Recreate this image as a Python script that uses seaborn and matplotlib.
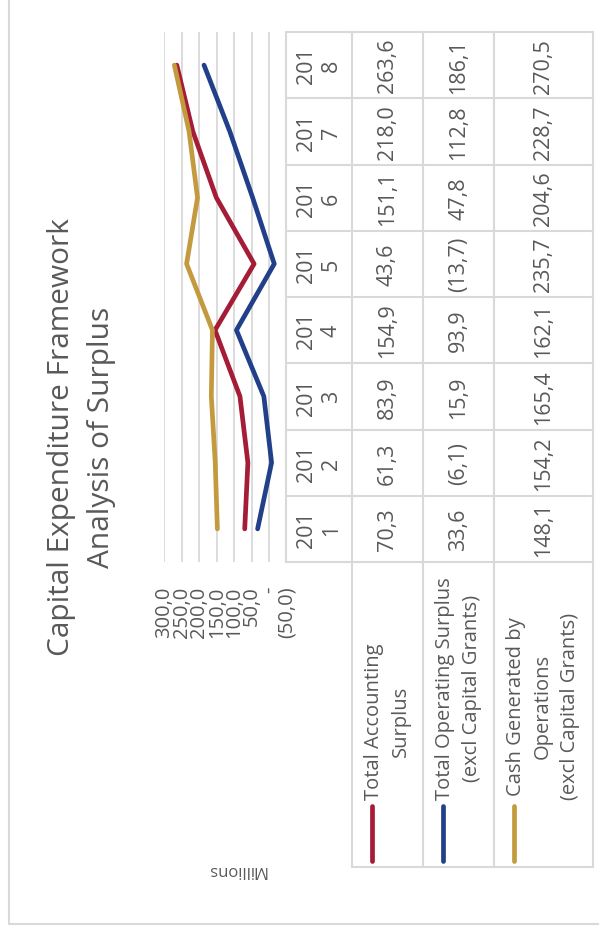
import pandas as pd
import seaborn as sns
import matplotlib.pyplot as plt

# Daten aus der Tabelle (Mio.)
jahre = ['2011', '2012', '2013', '2014', '2015', '2016', '2017', '2018']
accounting_surplus = [70.3, 61.3, 83.9, 154.9, 43.6, 151.1, 218.0, 263.6]
operating_surplus = [33.6, -6.1, 15.9, 93.9, -13.7, 47.8, 112.8, 186.1]
cash_generated = [148.1, 154.2, 165.4, 162.1, 235.7, 204.6, 228.7, 270.5]

serien = ['Total Accounting Surplus',
          'Total Operating Surplus (excl Capital Grants)',
          'Cash Generated by Operations (excl Capital Grants)']
legend_texte = ['Total Accounting\nSurplus',
                'Total Operating Surplus\n(excl Capital Grants)',
                'Cash Generated by\nOperations\n(excl Capital Grants)']
farben = ['#A51C36', '#22408A', '#C49A3F']
werte_ticks = [-50, 0, 50, 100, 150, 200, 250, 300]

titel = 'Capital Expenditure Framework\nAnalysis of Surplus'
einheit = 'Millions'

GRAU = '#595959'
LINIE = '#D9D9D9'
W, H = 599, 937


def format_wert(v):
    # Excel Buchhaltungsformat mit Komma
    if v == 0:
        return '-'
    s = f"{abs(v):.1f}".replace('.', ',')
    return f"({s})" if v < 0 else s


sns.set_style('white')
plt.rcParams['font.family'] = ['Open Sans', 'DejaVu Sans']

fig = plt.figure(figsize=(W / 100, H / 100), dpi=100)

# Diagramm ist um 90 Grad gedreht: Werte horizontal, Jahre vertikal
top, bottom = 33, 563
ax = fig.add_axes([164 / W, 1 - bottom / H, (287 - 164) / W, (bottom - top) / H])

zeilen = []
for serie, werte in zip(serien, [accounting_surplus, operating_surplus, cash_generated]):
    for i, w in enumerate(werte):
        zeilen.append({'Serie': serie, 'Pos': i, 'Wert': w})
df = pd.DataFrame(zeilen)

sns.lineplot(data=df, x='Wert', y='Pos', hue='Serie', palette=dict(zip(serien, farben)),
             orient='y', estimator=None, sort=False, linewidth=3.4, legend=False, ax=ax,
             solid_capstyle='round', solid_joinstyle='round')

ax.set_xlim(300, -50)
ax.set_ylim(-0.5, len(jahre) - 0.5)
ax.set_yticks([])
ax.set_xticks(werte_ticks, labels=[format_wert(v) for v in werte_ticks])
ax.tick_params(axis='x', length=0, pad=17, labelrotation=90, labelsize=14.5, colors=GRAU)
ax.grid(axis='x', color=LINIE, linewidth=1.3)
ax.set_xlabel('')
ax.set_ylabel('')
for sp in ax.spines.values():
    sp.set_visible(False)

# Overlay in Pixelkoordinaten fuer Tabelle, Legende, Titel
ov = fig.add_axes([0, 0, 1, 1])
ov.set_xlim(0, W)
ov.set_ylim(H, 0)
ov.axis('off')

# Rahmen
ov.plot([9, 9], [0, 925], color=LINIE, lw=1.5)
ov.plot([9, W], [925, 925], color=LINIE, lw=1.5)

# Tabellenlinien
spalten_x = [286, 352, 423, 494, 593]
legende_unten = 868
zeile_h = (bottom - top) / len(jahre)
ov.plot([286, 286], [top, bottom], color=LINIE, lw=1.5)
for x in spalten_x[1:]:
    ov.plot([x, x], [top, legende_unten], color=LINIE, lw=1.5)
for k in range(len(jahre) + 1):
    y = top + k * zeile_h
    ov.plot([286, 593], [y, y], color=LINIE, lw=1.5)
ov.plot([352, 593], [legende_unten, legende_unten], color=LINIE, lw=1.5)

# Tabelleninhalt
alle_werte = [accounting_surplus, operating_surplus, cash_generated]
for i, jahr in enumerate(jahre):
    y = bottom - (i + 0.5) * zeile_h
    ov.text((286 + 352) / 2, y, jahr[:3] + '\n' + jahr[3:], rotation=90, ha='center', va='center',
            fontsize=15.5, color=GRAU, linespacing=1.2)
    for j, werte in enumerate(alle_werte):
        x = (spalten_x[j + 1] + spalten_x[j + 2]) / 2
        ov.text(x, y, format_wert(werte[i]), rotation=90, ha='center', va='center',
                fontsize=15.5, color=GRAU)

# Legende in der Tabelle
for j, (txt, farbe) in enumerate(zip(legend_texte, farben)):
    x0 = spalten_x[j + 1]
    ov.plot([x0 + 20, x0 + 20], [807, 862], color=farbe, lw=3.4, solid_capstyle='round')
    ov.text(x0 + 12, 800, txt, rotation=90, ha='left', va='bottom', multialignment='center',
            fontsize=14.5, color=GRAU, linespacing=1.45)

# Titel und Einheit
ov.text(82, 437, titel, rotation=90, ha='center', va='center', multialignment='center',
        fontsize=21.5, color=GRAU, linespacing=1.5)
ov.text(237, 870, einheit, rotation=180, ha='center', va='center', fontsize=12, color=GRAU)

plt.savefig('out.png', dpi=100)
plt.close()
